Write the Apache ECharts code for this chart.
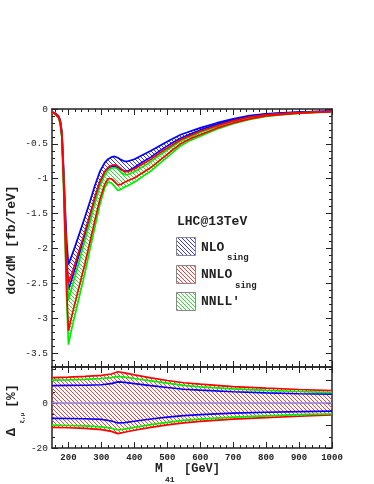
<!DOCTYPE html>
<html><head><meta charset="utf-8">
<script src="https://cdn.jsdelivr.net/npm/echarts@6/dist/echarts.min.js"></script>
<style>html,body{margin:0;padding:0;background:#fff}#c{width:374px;height:484px}</style>
</head><body><div id="c"></div>
<script>
// ---- top panel: dσ/dM [fb/TeV] band edges ----
const mass = [150,160,170,175,180,185,190,195,200,210,220,235,250,265,280,295,310,320,330,340,350,360,370,380,400,425,450,480,510,540,570,600,650,700,750,800,850,900,950,1000];
const nloUp  = [-0.04,-0.06,-0.10,-0.16,-0.32,-0.82,-1.42,-1.93,-2.23,-2.10,-1.97,-1.76,-1.55,-1.33,-1.10,-0.90,-0.77,-0.72,-0.69,-0.68,-0.70,-0.73,-0.75,-0.75,-0.72,-0.66,-0.60,-0.52,-0.44,-0.37,-0.32,-0.27,-0.20,-0.14,-0.095,-0.068,-0.054,-0.044,-0.036,-0.03];
const nloLo  = [-0.046,-0.07,-0.116,-0.186,-0.37,-0.95,-1.65,-2.24,-2.59,-2.44,-2.29,-2.04,-1.80,-1.54,-1.28,-1.05,-0.90,-0.85,-0.82,-0.82,-0.84,-0.87,-0.89,-0.89,-0.84,-0.76,-0.69,-0.59,-0.50,-0.42,-0.36,-0.30,-0.22,-0.155,-0.104,-0.074,-0.059,-0.048,-0.039,-0.032];
const nnloUp = [-0.045,-0.066,-0.11,-0.18,-0.35,-0.90,-1.58,-2.16,-2.50,-2.37,-2.22,-1.99,-1.76,-1.52,-1.27,-1.05,-0.90,-0.84,-0.81,-0.80,-0.82,-0.86,-0.90,-0.90,-0.86,-0.79,-0.72,-0.62,-0.53,-0.44,-0.38,-0.32,-0.24,-0.17,-0.115,-0.083,-0.066,-0.054,-0.044,-0.036];
const nnloLo = [-0.048,-0.071,-0.123,-0.20,-0.40,-1.04,-1.84,-2.64,-3.18,-2.97,-2.78,-2.50,-2.22,-1.91,-1.60,-1.30,-1.08,-1.00,-1.00,-1.04,-1.09,-1.08,-1.05,-1.03,-0.99,-0.915,-0.84,-0.725,-0.61,-0.50,-0.425,-0.37,-0.275,-0.20,-0.142,-0.10,-0.076,-0.059,-0.047,-0.038];
const nnllUp = [-0.046,-0.068,-0.115,-0.185,-0.36,-0.93,-1.64,-2.30,-2.74,-2.56,-2.40,-2.14,-1.88,-1.62,-1.35,-1.11,-0.95,-0.88,-0.85,-0.84,-0.86,-0.91,-0.94,-0.94,-0.90,-0.83,-0.755,-0.65,-0.555,-0.46,-0.395,-0.335,-0.25,-0.177,-0.12,-0.087,-0.069,-0.056,-0.046,-0.037];
const nnllLo = [-0.05,-0.075,-0.13,-0.21,-0.42,-1.10,-1.95,-2.80,-3.38,-3.15,-2.95,-2.65,-2.35,-2.02,-1.70,-1.38,-1.13,-1.05,-1.06,-1.11,-1.17,-1.15,-1.12,-1.10,-1.05,-0.97,-0.89,-0.77,-0.65,-0.53,-0.45,-0.39,-0.29,-0.21,-0.15,-0.105,-0.08,-0.062,-0.05,-0.04];

// ---- bottom panel: relative scale variation [%] ----
const massR   = [150,200,250,300,330,350,370,400,450,500,550,600,700,800,900,1000];
const dNnloUp = [11.3,11.5,11.8,12.3,12.9,13.9,13.4,12.5,11.2,10.0,9.0,8.4,7.3,6.6,6.0,5.5];
const dNnllUp = [10.2,10.3,10.5,10.9,11.3,11.8,11.5,10.9,9.8,8.8,7.8,7.2,6.3,5.6,5.1,4.6];
const dNloUp  = [7.7,7.8,7.9,8.1,8.6,9.4,9.2,8.6,7.7,6.9,6.1,5.7,5.0,4.5,4.1,3.9];
const dNloLo  = [-6.8,-6.9,-7.0,-7.3,-8.0,-8.9,-8.7,-8.1,-7.1,-6.3,-5.6,-5.2,-4.5,-4.1,-3.8,-3.6];
const dNnllLo = [-9.8,-10.0,-10.2,-10.6,-11.2,-12.0,-11.6,-10.8,-9.6,-8.6,-7.7,-7.2,-6.3,-5.7,-5.2,-4.9];
const dNnloLo = [-10.8,-11.0,-11.3,-11.8,-12.6,-13.6,-13.0,-12.1,-10.8,-9.7,-8.8,-8.2,-7.2,-6.5,-5.9,-5.3];
const dCenter = [0,0,0,0,0,0,0,0,0,0,0,0,0,0,0,0];

// ---- ticks ----
const xMajor = [200,300,400,500,600,700,800,900,1000];
const xMinor = [160,180,220,240,260,280,320,340,360,380,420,440,460,480,520,540,560,580,620,640,660,680,720,740,760,780,820,840,860,880,920,940,960,980];
const yTopMajor = [0,-0.5,-1,-1.5,-2,-2.5,-3,-3.5];
const yTopMinor = [-0.1,-0.2,-0.3,-0.4,-0.6,-0.7,-0.8,-0.9,-1.1,-1.2,-1.3,-1.4,-1.6,-1.7,-1.8,-1.9,-2.1,-2.2,-2.3,-2.4,-2.6,-2.7,-2.8,-2.9,-3.1,-3.2,-3.3,-3.4,-3.6];
const yBotMajor = [10,0,-10,-20];
const yBotMinor = [15,5,-5,-15];
const yBotLabels = [0,-20];

const MONO = '"Liberation Mono", "DejaVu Sans Mono", monospace';
const INK = '#222';

function hatch(color){
  const c = document.createElement('canvas'); c.width = 4; c.height = 4;
  const g = c.getContext('2d');
  g.strokeStyle = color; g.lineWidth = 1;
  g.beginPath();
  g.moveTo(-1,-1); g.lineTo(5,5);
  g.moveTo(-1,3); g.lineTo(1,5);
  g.moveTo(3,-1); g.lineTo(5,1);
  g.stroke();
  return c;
}
const CB = hatch('#3a3aff'), CR = hatch('#ff3a3a'), CG = hatch('#2ee02e');
function pat(c){ return {image:c, repeat:'repeat'}; }

function xAx(grid, pos, major, minor, labels){
  return [
    {type:'value', gridIndex:grid, position:pos, min:150, max:1000,
     axisLine:{show:true, onZero:false, lineStyle:{color:INK, width:1.5}},
     axisTick:{show:true, inside:true, length:6, customValues:major, lineStyle:{color:INK, width:1}},
     axisLabel: labels ? {show:true, customValues:labels, color:INK, fontFamily:MONO, fontWeight:'bold', fontSize:9, margin:5, formatter:v=>String(v)} : {show:false},
     splitLine:{show:false}},
    {type:'value', gridIndex:grid, position:pos, min:150, max:1000,
     axisLine:{show:false, onZero:false},
     axisTick:{show:true, inside:true, length:3, customValues:minor, lineStyle:{color:INK, width:1}},
     axisLabel:{show:false}, splitLine:{show:false}}
  ];
}
function yAx(grid, pos, min, max, major, minor, labels){
  return [
    {type:'value', gridIndex:grid, position:pos, min, max,
     axisLine:{show:true, onZero:false, lineStyle:{color:INK, width:1.5}},
     axisTick:{show:true, inside:true, length:6, customValues:major, lineStyle:{color:INK, width:1}},
     axisLabel: labels ? {show:true, customValues:labels, color:INK, fontFamily:MONO, fontSize:9.5, margin:4, formatter:v=>String(v)} : {show:false},
     splitLine:{show:false}},
    {type:'value', gridIndex:grid, position:pos, min, max,
     axisLine:{show:false, onZero:false},
     axisTick:{show:true, inside:true, length:3, customValues:minor, lineStyle:{color:INK, width:1}},
     axisLabel:{show:false}, splitLine:{show:false}}
  ];
}

const xAxes = [].concat(
  xAx(0,'bottom',xMajor,xMinor,null),   // 0,1
  xAx(0,'top',xMajor,xMinor,null),      // 2,3
  xAx(1,'bottom',xMajor,xMinor,xMajor), // 4,5
  xAx(1,'top',xMajor,xMinor,null)       // 6,7
);
const yAxes = [].concat(
  yAx(0,'left',-3.7,0,yTopMajor,yTopMinor,yTopMajor), // 0,1
  yAx(0,'right',-3.7,0,yTopMajor,yTopMinor,null),     // 2,3
  yAx(1,'left',-20,16,yBotMajor,yBotMinor,yBotLabels),// 4,5
  yAx(1,'right',-20,16,yBotMajor,yBotMinor,null)      // 6,7
);

function pairs(xs, ys){ return xs.map((x,i)=>[x, ys[i]]); }
// hatched band between two edges, drawn as a polygon through the axis scales
function band(xs, lo, up, canvas, xi, yi){
  return {type:'custom', coordinateSystem:'cartesian2d', xAxisIndex:xi, yAxisIndex:yi,
    data:[[xs[0], lo[0]]], silent:true, animation:false, z:2,
    renderItem:function(params, api){
      const pts = [];
      for (let i=0;i<xs.length;i++) pts.push(api.coord([xs[i], up[i]]));
      for (let i=xs.length-1;i>=0;i--) pts.push(api.coord([xs[i], lo[i]]));
      return {type:'polygon', shape:{points:pts}, style:{fill:pat(canvas), stroke:null}};
    }};
}
function edge(xs, ys, color, xi, yi, w){
  return {type:'line', xAxisIndex:xi, yAxisIndex:yi, data:pairs(xs, ys), symbol:'none',
          lineStyle:{color, width:w||1.7}, silent:true, animation:false, z:3};
}

const series = [
  band(mass, nloLo, nloUp, CB, 0, 0),
  band(mass, nnloLo, nnloUp, CR, 0, 0),
  band(mass, nnllLo, nnllUp, CG, 0, 0),
  edge(mass, nloUp, '#0000ff',0,0), edge(mass, nloLo, '#0000ff',0,0),
  edge(mass, nnllUp, '#00ee00',0,0), edge(mass, nnllLo, '#00ee00',0,0),
  edge(mass, nnloUp, '#ff0000',0,0), edge(mass, nnloLo, '#ff0000',0,0),
  band(massR, dNnloLo, dNnloUp, CR, 4, 4),
  edge(massR, dNnloUp, '#ff0000',4,4), edge(massR, dNnloLo, '#ff0000',4,4),
  edge(massR, dNnllUp, '#00ee00',4,4), edge(massR, dNnllLo, '#00ee00',4,4),
  edge(massR, dNloUp, '#0000ff',4,4), edge(massR, dNloLo, '#0000ff',4,4),
  edge(massR, dCenter, '#8c80e0',4,4)
];

function txt(x, y, s, size, opts){
  opts = opts || {};
  return {type:'text', x, y, rotation:opts.rot||0, z:100, silent:true,
    style:{text:s, font:(opts.weight||'bold')+' '+size+'px '+MONO, fill:INK,
           align:opts.align||'left', verticalAlign:'middle'}};
}
function box(y, c){
  return {type:'rect', shape:{x:176.5, y:y+0.5, width:19, height:18}, z:100, silent:true,
          style:{fill:pat(c), stroke:'#888', lineWidth:1}};
}

const graphic = [
  txt(12, 240, 'dσ/dM [fb/TeV]', 13, {rot:Math.PI/2, align:'center'}),
  txt(12, 432, 'Δ', 13, {rot:Math.PI/2, align:'center'}),
  txt(22, 418, 'ξ,μ', 6, {rot:Math.PI/2, align:'center'}),
  txt(12, 396, '[%]', 13, {rot:Math.PI/2, align:'center'}),
  txt(155, 469, 'M', 13),
  txt(165, 480, '41', 8),
  txt(184, 469, '[GeV]', 12),
  txt(177, 222, 'LHC@13TeV', 13),
  box(237, CB), box(265, CR), box(292, CG),
  txt(201, 248, 'NLO', 13),
  txt(227, 258, 'sing', 9),
  txt(201, 275, 'NNLO', 13),
  txt(235, 286, 'sing', 9),
  txt(201, 302, "NNLL'", 13)
];

const chart = echarts.init(document.getElementById('c'), null, {renderer:'canvas'});
chart.setOption({
  animation:false,
  backgroundColor:'#fff',
  grid:[{left:52, top:109, width:280, height:258}, {left:52, top:367, width:280, height:81}],
  xAxis:xAxes, yAxis:yAxes, series, graphic
});
</script></body></html>
